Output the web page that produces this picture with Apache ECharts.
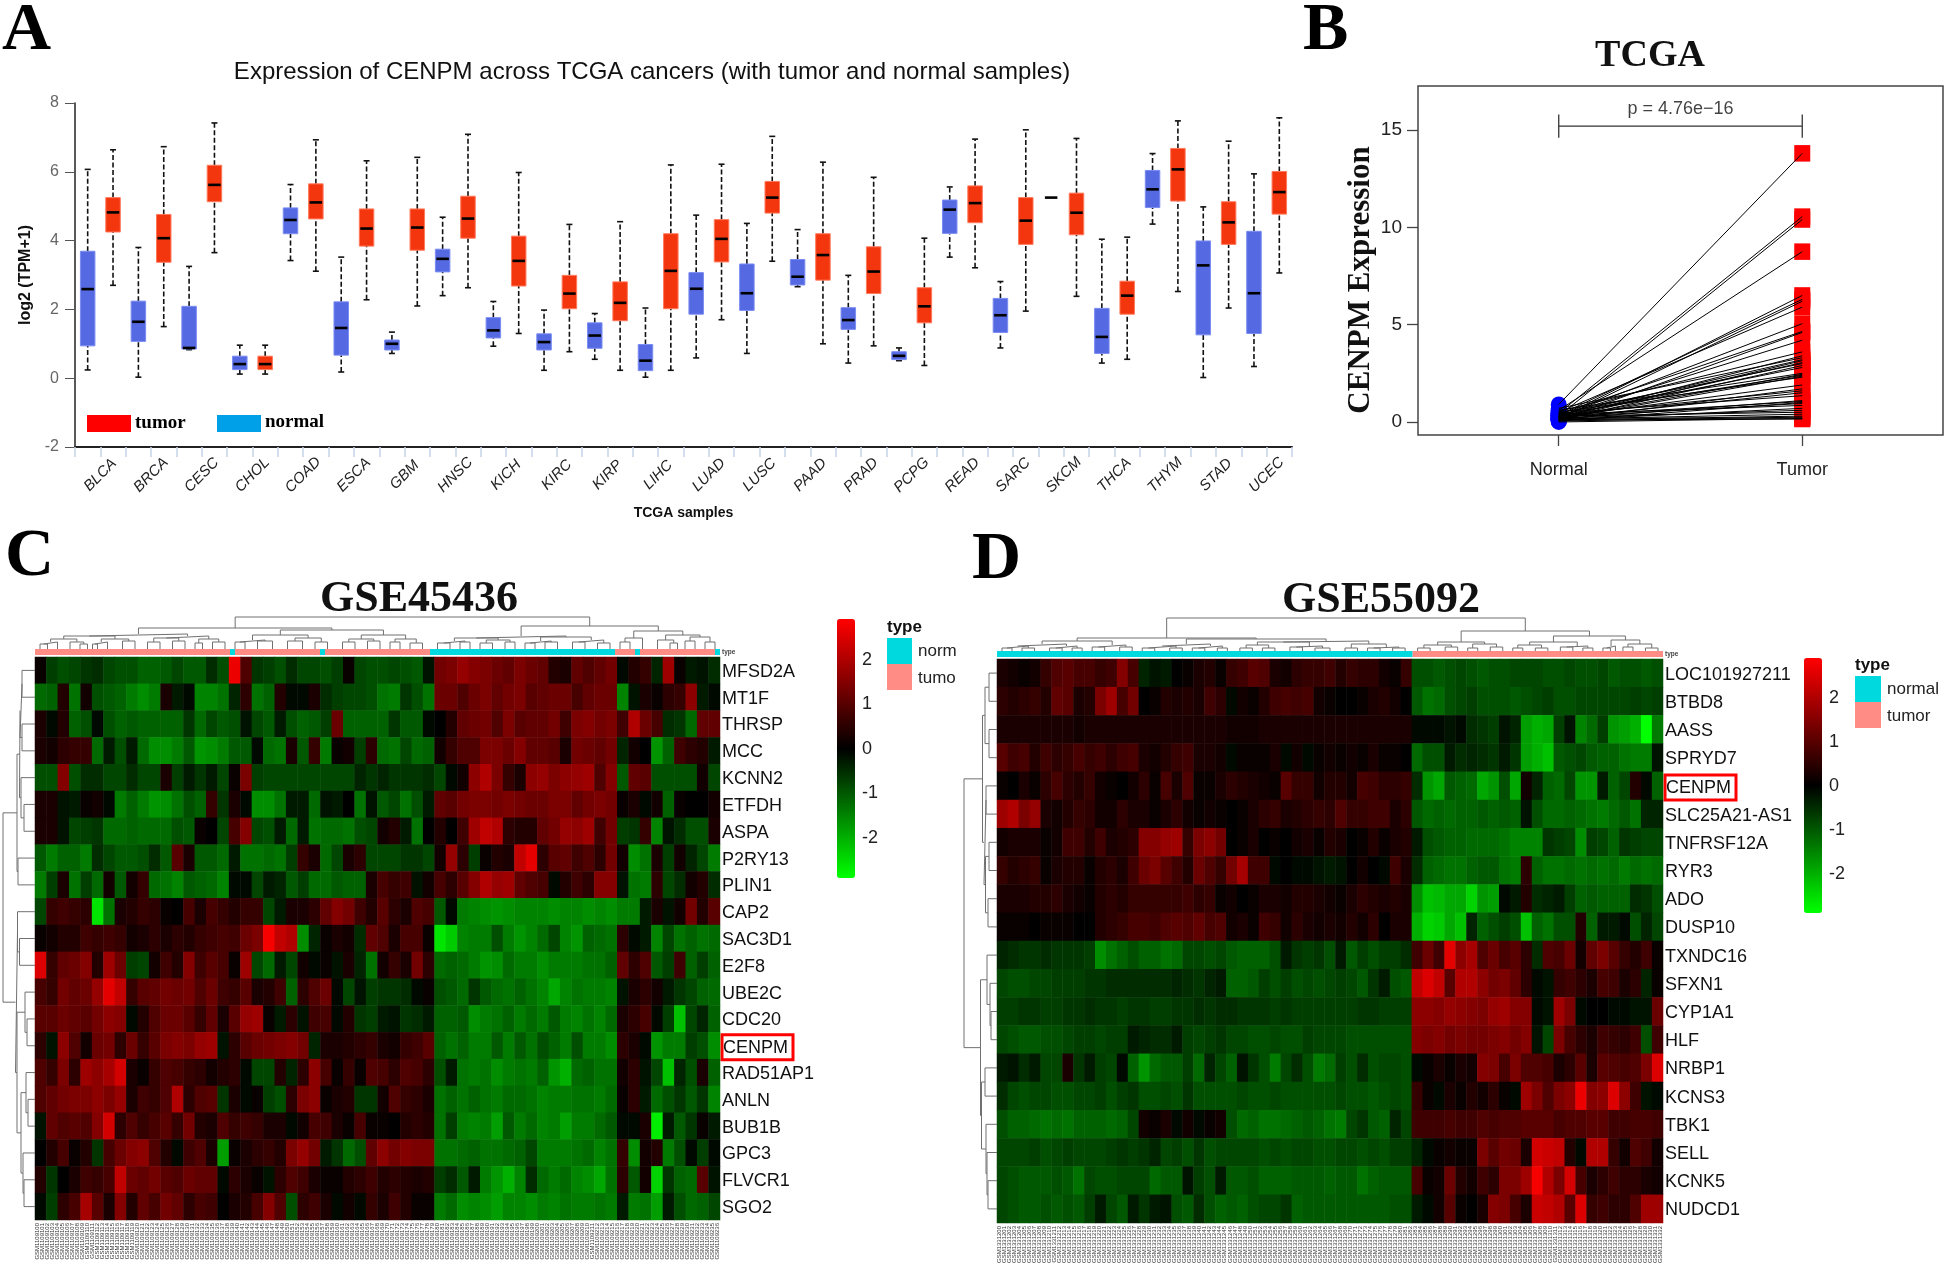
<!DOCTYPE html>
<html><head><meta charset="utf-8">
<style>html,body{margin:0;padding:0;background:#fff}#c{width:1946px;height:1266px}</style>
<script src="https://cdn.jsdelivr.net/npm/echarts@6/dist/echarts.min.js"></script>
</head><body><div id="c"></div>
<script>
// ---------- Panel A ----------
const cancers=['BLCA','BRCA','CESC','CHOL','COAD','ESCA','GBM','HNSC','KICH','KIRC','KIRP','LIHC','LUAD','LUSC','PAAD','PRAD','PCPG','READ','SARC','SKCM','THCA','THYM','STAD','UCEC'];
// [low, q1, median, q3, high]
const normalBoxes=[[0.24,0.94,2.59,3.69,6.07],[0.03,1.07,1.64,2.24,3.8],[0.83,0.85,0.88,2.09,3.25],[0.12,0.25,0.41,0.64,0.96],[3.42,4.2,4.6,4.95,5.63],[0.18,0.67,1.46,2.22,3.52],[0.72,0.82,1.0,1.11,1.34],[2.4,3.09,3.47,3.75,4.68],[0.93,1.17,1.39,1.76,2.23],[0.23,0.82,1.05,1.29,1.98],[0.55,0.87,1.24,1.61,1.88],[0.03,0.22,0.51,0.98,2.04],[0.59,1.86,2.6,3.07,4.74],[0.72,1.97,2.47,3.32,4.5],[2.66,2.71,2.95,3.45,4.32],[0.44,1.42,1.69,2.05,2.99],[0.51,0.54,0.65,0.77,0.88],[3.52,4.21,4.9,5.18,5.56],[0.88,1.33,1.83,2.32,2.81],[5.25,5.25,5.25,5.25,5.25],[0.44,0.72,1.2,2.03,4.04],[4.48,4.96,5.49,6.04,6.53],[0.02,1.26,3.28,3.99,4.98],[0.34,1.3,2.47,4.27,5.94]];
const tumorBoxes=[[2.7,4.25,4.82,5.25,6.64],[1.5,3.37,4.07,4.76,6.73],[3.65,5.13,5.62,6.19,7.42],[0.12,0.25,0.41,0.64,0.96],[3.11,4.63,5.11,5.65,6.93],[2.28,3.84,4.35,4.92,6.32],[2.1,3.72,4.38,4.92,6.42],[2.63,4.07,4.64,5.29,7.09],[1.3,2.68,3.41,4.13,5.98],[0.77,2.02,2.46,2.99,4.47],[0.23,1.67,2.19,2.8,4.55],[0.23,2.02,3.12,4.2,6.2],[1.7,3.38,4.05,4.61,6.22],[3.4,4.8,5.25,5.72,7.03],[1.0,2.85,3.58,4.2,6.28],[0.94,2.46,3.1,3.82,5.84],[0.37,1.61,2.09,2.63,4.07],[3.21,4.52,5.09,5.59,6.95],[1.95,3.89,4.58,5.25,7.22],[2.38,4.17,4.81,5.38,6.97],[0.55,1.86,2.4,2.82,4.1],[2.52,5.15,6.07,6.68,7.48],[2.04,3.89,4.53,5.13,6.89],[3.06,4.77,5.41,6.01,7.57]];
// ---------- Panel B ----------
const pairedNormal=[0.9,0.45,0.3,0.6,0.2,0.35,0.15,0.5,0.25,0.4,0.1,0.3,0.55,0.2,0.7,0.35,0.15,0.25,0.45,0.1,0.3,0.6,0.2,0.4,0.15,0.5,0.25,0.1,0.35,0.2,0.45,0.15,0.3,0.05,0.25,0.4,0.1,0.2,0.3,0.15,0.1,0.05,0.2,0.0,0.1];
const pairedTumor=[13.8,10.55,10.4,8.75,6.5,6.3,6.2,5.9,5.05,4.65,4.6,4.2,3.6,3.4,3.3,3.2,3.15,3.05,3.0,2.9,2.8,2.5,2.45,2.4,2.35,2.3,1.9,1.7,1.6,1.5,1.35,1.1,1.05,1.0,0.95,0.85,0.7,0.6,0.5,0.4,0.3,0.25,0.2,0.18,0.15];
// ---------- Panel C ----------
const genesC=['MFSD2A','MT1F','THRSP','MCC','KCNN2','ETFDH','ASPA','P2RY13','PLIN1','CAP2','SAC3D1','E2F8','UBE2C','CDC20','CENPM','RAD51AP1','ANLN','BUB1B','GPC3','FLVCR1','SGO2'];
// expression z-score x10, 60 columns per gene
const cMFSD2A=[1,-7,-9,-8,-6,-5,-8,-9,-9,-11,-11,-10,-8,-10,-10,-5,-9,27,9,-6,-7,-9,-5,-8,-8,-9,-7,1,-8,-9,-9,-8,-9,-10,-2,13,14,17,15,14,12,11,14,12,11,4,3,11,9,11,13,-1,4,6,-4,18,1,-3,-2,-5];
const cMT1F=[-12,-11,4,-13,2,-9,-10,-11,-14,-16,-14,3,-3,-1,-15,-15,-13,-4,5,-13,-11,4,-1,-1,3,-5,-7,-8,-8,-9,-13,-14,-6,-9,-13,12,12,9,12,14,11,13,14,10,11,12,12,8,11,12,12,-15,-2,3,1,5,6,16,-3,-1];
const cTHRSP=[3,-1,4,-11,-9,-1,-9,-11,-10,-11,-11,-11,-11,-6,-12,-8,-10,-9,-2,-8,-10,-3,-9,-11,-10,-7,12,-11,-11,-11,-11,-6,-10,-10,-1,0,4,11,12,13,9,14,10,11,11,13,7,14,15,13,14,7,20,12,8,-5,-6,-12,11,11];
const cMCC=[3,2,5,6,6,-12,-3,-9,-3,-12,-16,-16,-14,-10,-17,-16,-14,-10,-10,-1,-12,-13,3,-10,6,-14,1,2,-7,5,-12,-13,-8,-12,-11,2,6,9,9,14,14,12,15,11,11,10,3,13,12,11,13,-4,2,0,-17,-11,7,5,4,-3];
const cKCNN2=[-9,-9,15,-9,-5,-5,-8,-8,-5,-8,-8,3,-7,-3,-6,-3,-8,1,14,-7,-8,-8,-8,-8,-8,-8,-8,-8,-4,-6,-4,-6,-6,-6,-5,-8,-1,2,16,20,14,6,3,16,17,14,16,17,18,9,15,-10,11,10,-9,-9,-9,-9,2,-8];
const cETFDH=[3,3,-2,-3,1,2,-1,-14,-11,-14,-17,-16,-13,-9,-11,6,-6,3,-1,-16,-16,-13,-3,-3,-12,-2,-3,0,-13,-2,-10,-8,-13,-9,-3,11,10,13,14,14,13,14,13,12,12,14,14,11,13,14,13,1,3,-1,2,-11,1,0,0,2];
const cASPA=[3,3,-2,-8,-7,-6,-12,-12,-11,-12,-12,-12,-9,-10,1,0,-8,8,15,-8,-9,-3,-12,-3,-13,-12,-12,-13,-9,-8,2,4,-3,-13,0,4,0,7,18,22,20,5,4,4,11,13,17,16,18,7,13,-7,-6,6,-15,-2,-5,-9,-9,3];
const cP2RY13=[-10,-14,-11,-11,-14,-5,-8,-10,-10,-9,-5,-10,10,3,-10,-10,-12,-3,-13,-13,-12,-13,-7,6,3,-12,-8,3,5,-8,-8,-8,-6,-6,-8,2,17,5,-7,1,4,3,22,26,5,10,11,7,9,5,13,2,-16,-13,3,-7,2,-4,-8,-14];
const cPLIN1=[-14,-7,3,-13,-7,-12,2,-10,2,6,-12,-13,-15,-10,-11,-12,-15,-1,-1,-8,-3,-4,-10,-7,-12,-12,-10,-11,-11,3,8,6,7,-2,2,8,5,10,15,20,17,18,11,9,8,-1,4,7,5,15,15,-2,-13,-14,5,-8,-5,2,4,-5];
const cCAP2=[-8,6,7,6,5,-26,-13,3,4,6,5,1,0,8,3,8,6,4,6,6,-8,-3,3,3,5,11,15,13,7,4,10,5,3,9,8,-10,-1,-14,-15,-16,-17,-16,-15,-15,-15,-16,-15,-15,-16,-15,-16,-14,-14,-3,3,-2,2,13,4,10];
const cSAC3D1=[1,2,4,4,7,6,7,6,2,3,5,3,5,4,6,7,8,7,12,14,28,22,20,-16,-4,1,3,2,-5,11,9,3,8,8,1,-26,-23,-15,-14,-14,-9,-14,-17,-15,-12,-8,-15,-17,-11,-12,-13,5,-1,-3,-15,-8,-13,-11,-13,-12];
const cE2F8=[25,6,11,12,15,4,18,12,-7,-8,2,7,4,15,7,10,8,1,18,-8,-12,-3,-8,2,-1,1,-2,3,-4,-13,2,6,3,13,5,-12,-11,-12,-14,-17,-16,-12,-14,-14,-16,-14,-14,-14,-13,-13,-11,11,5,9,-10,-7,7,-11,-7,-11];
const cUBE2C=[8,6,13,11,12,17,26,22,6,10,11,13,12,13,9,12,7,6,10,3,4,7,-11,5,9,12,-1,-8,-2,-7,-6,-6,-5,-1,1,-9,-10,-12,-6,-10,-12,-13,-11,-13,-15,-19,-15,-13,-14,-14,-15,-2,3,5,2,-3,-6,-8,-11,-12];
const cCDC20=[10,10,12,11,10,13,16,15,-1,4,9,12,12,10,6,11,3,10,17,18,1,-3,5,-2,7,8,-1,4,-6,-7,-3,-2,-6,-5,-3,-11,-11,-10,-16,-14,-13,-11,-14,-12,-14,-10,-14,-15,-13,-15,-12,3,5,8,-1,-7,-22,-8,-4,-11];
const cCENPM=[5,-2,16,9,2,12,13,5,12,6,10,14,15,14,17,18,-2,5,10,12,13,14,15,13,-4,3,3,4,5,6,3,2,6,7,10,-11,-13,-11,-14,-14,-10,-14,-10,-13,-9,-11,-14,-9,-14,-14,-16,5,3,-1,-17,-14,-14,-7,-9,-16];
const cRAD51AP1=[9,6,14,5,18,16,19,24,3,1,6,9,8,6,5,2,4,5,-1,-8,-8,4,-4,5,16,8,1,6,1,9,8,5,9,8,5,-9,-3,-13,-14,-13,-16,-14,-13,-14,-11,-17,-20,-12,-11,-13,-13,2,5,-2,-8,-22,-4,-9,3,-11];
const cANLN=[9,11,13,14,14,16,14,17,3,7,6,9,20,5,9,10,-6,3,-1,1,-7,-9,5,14,16,1,3,4,-6,-6,2,9,6,5,3,-13,-11,-13,-11,-13,-14,-12,-12,-13,-15,-14,-14,-13,-13,-14,-12,1,5,-3,-12,-9,-6,-10,-6,-15];
const cBUB1B=[-2,11,9,10,9,15,24,5,9,6,8,10,6,13,4,3,9,6,7,6,3,3,-1,2,8,7,3,1,8,1,1,0,4,5,4,-13,-7,-14,-15,-14,-18,-10,-14,-12,-15,-14,-18,-14,-14,-12,-10,-1,-1,3,-27,-3,-10,-6,1,-3];
const cGPC3=[0,4,8,1,4,-6,8,12,15,16,9,4,-1,7,9,3,-18,1,3,5,6,4,14,17,13,-3,-6,-12,-9,11,16,13,15,14,14,-13,-13,-12,-11,-13,-13,-12,-11,-8,-14,-14,-14,-13,-12,-15,-13,6,-16,2,4,-14,-9,-1,-7,-1];
const cFLVCR1=[4,-6,0,3,7,6,8,22,12,11,13,10,9,12,11,11,-1,5,3,1,-2,5,9,7,3,1,1,4,5,7,4,5,4,3,4,-7,-5,-10,-3,-14,-17,-20,-15,-5,-12,-14,-12,-15,-16,-19,-13,5,-10,2,-24,-6,-11,-12,10,-2];
const cSGO2=[-1,-7,5,8,19,10,3,15,4,11,8,13,11,5,8,7,0,3,4,8,15,9,-9,5,7,3,-1,2,-1,6,3,7,4,1,1,-14,-12,-16,-15,-16,-18,-15,-15,-16,-14,-15,-13,-14,-14,-13,-14,-3,-14,-13,-18,-3,-9,-12,-11,-8];
const heatC=[cMFSD2A,cMT1F,cTHRSP,cMCC,cKCNN2,cETFDH,cASPA,cP2RY13,cPLIN1,cCAP2,cSAC3D1,cE2F8,cUBE2C,cCDC20,cCENPM,cRAD51AP1,cANLN,cBUB1B,cGPC3,cFLVCR1,cSGO2];
// sample-type runs [first, end, 0=normal 1=tumor]
const typeRunsC=[[0,39,1],[39,40,0],[40,57,1],[57,58,0],[58,79,1],[79,116,0],[116,120,1],[120,121,0],[121,136,1],[136,137,0]];
// dendrograms: [merge height, left, right]; a plain number is a leaf of that width
const colTreeC=[32,[21,[15,[13,[10,[7,[5,2,1],3],[7,2,[5,2,1]]],[10,[7,[5,1,1],3],[8,3,2]]],[13,[11,[7,3,2],[8,3,2]],[10,[6,2,1],[7,3,2]]]],[19,[14,[9,[7,2,2],[8,3,3]],[11,[8,3,3],[7,2,3]]],[14,[10,[7,3,2],[8,3,2]],[10,[7,2,2],[6,2,3]]]]],[23,[13,[11,[8,[6,3,2],[7,2,2]],[9,[6,2,3],[7,2,2]]],[12,[8,[6,2,2],[7,2,3]],[9,[7,3,2],[6,3,2]]]],[18,[11,[7,2,2],3],[14,[9,3,[6,2,1]],[12,[8,2,2],[7,2,2]]]]]];
const rowTreeC=[32,[18,[15.5,[15,[13,1,1],[13,1,1]],[14,1,[11,1,1]]],[17,1,1]],[19.5,[17.5,1,[15.5,1,1]],[18,[10,1,[8,1,1]],[14,[9,1,[7,1,1]],[12,1,[11,1,1]]]]]];
// ---------- Panel D ----------
const genesD=['LOC101927211','BTBD8','AASS','SPRYD7','CENPM','SLC25A21-AS1','TNFRSF12A','RYR3','ADO','DUSP10','TXNDC16','SFXN1','CYP1A1','HLF','NRBP1','KCNS3','TBK1','SELL','KCNK5','NUDCD1'];
// expression z-score x10, 61 columns per gene
const dLOC101927211=[3,2,1,2,6,9,10,8,8,6,7,15,8,-4,-2,-3,0,1,3,4,1,6,7,10,9,3,2,5,6,6,7,4,6,5,5,2,1,6,-9,-9,-10,-9,-8,-9,-10,-9,-9,-8,-8,-8,-9,-9,-8,-9,-9,-8,-10,-9,-9,-10,-9];
const dBTBD8=[5,4,5,6,4,11,10,3,4,14,18,8,13,0,1,4,3,4,3,7,5,-1,2,1,4,7,8,7,8,2,1,0,0,1,3,4,2,0,-10,-13,-12,-9,-8,-7,-9,-9,-9,-10,-9,-8,-7,-9,-9,-8,-8,-8,-8,-8,-7,-8,-7];
const dAASS=[3,3,3,3,3,3,3,2,3,3,3,3,3,3,3,3,3,3,3,3,3,2,2,2,3,3,3,3,3,3,3,3,3,3,3,3,3,3,-1,-1,-1,-2,-1,-5,-6,-7,-2,-4,-18,-20,-19,-7,-2,-15,-12,-7,-17,-18,-20,-29,-14];
const dSPRYD7=[10,7,8,4,7,5,6,8,6,7,5,7,8,3,2,4,6,7,3,3,2,-1,1,1,1,3,-1,2,-1,1,2,1,2,1,3,1,1,0,-12,-9,-9,-3,-5,-4,-5,-6,-3,-6,-18,-20,-22,-10,-9,-8,-10,-11,-11,-13,-14,-14,-2];
const dCENPM=[1,0,3,1,5,8,5,4,6,2,1,0,2,5,1,8,3,9,1,1,3,5,4,3,2,1,10,6,6,2,4,4,2,8,7,5,5,6,-5,-17,-19,-10,-11,-12,-19,-17,-9,-19,2,-4,-11,-12,-8,-17,-17,-3,-11,-8,4,-1,-11];
const dSLC25A21=[18,20,14,17,3,2,4,6,5,2,2,5,3,3,1,3,5,2,1,2,1,0,1,3,5,6,3,4,5,6,5,9,6,6,7,7,3,5,-10,-12,-11,-12,-11,-11,-10,-11,-10,-11,-2,-9,-12,-12,-11,-12,-13,-14,-12,-10,-13,-4,-4];
const dTNFRSF12A=[2,3,3,3,1,2,7,7,4,7,3,4,5,15,15,17,18,6,14,16,13,0,1,3,0,1,0,2,3,1,4,3,0,1,4,1,3,4,-3,-9,-10,-11,-11,-12,-12,-12,-13,-15,-15,-15,-6,-7,-8,-16,-7,-8,-11,-6,-7,-8,-8];
const dRYR3=[6,4,5,6,1,3,4,4,1,4,5,3,7,12,14,10,7,4,12,9,6,13,19,7,7,-1,0,-1,-1,-2,-3,-2,0,2,0,-1,7,3,-5,-11,-12,-13,-13,-11,-10,-10,-13,-14,5,-11,-13,-13,-12,-13,-12,-13,-12,-14,-12,-13,-12];
const dADO=[3,3,3,4,4,5,3,2,1,4,5,4,6,6,6,6,6,7,5,6,1,2,0,1,3,3,2,4,4,3,2,1,3,5,4,3,4,3,-16,-22,-21,-19,-19,-24,-17,-18,-1,-3,4,-5,-4,-3,-7,-11,-10,-11,-11,-11,-5,-6,-9];
const dDUSP10=[1,1,1,0,1,1,1,0,0,4,5,6,8,8,7,9,10,9,11,8,9,2,3,1,7,6,2,5,3,2,3,2,4,2,5,0,3,3,-20,-24,-23,-19,-22,-4,-11,-9,-7,-9,-22,-11,-13,-9,-9,4,-11,-3,-3,-1,-9,-4,-8];
const dTXNDC16=[-4,-5,-6,-6,-5,-6,-6,-6,-7,-16,-13,-11,-9,-11,-11,-13,-12,-8,-8,-9,-8,-10,-11,-11,-11,-9,-3,-6,-7,-6,-9,-3,-10,-7,-9,-7,-7,-5,7,12,7,26,16,19,9,12,8,10,5,-5,9,8,12,2,11,14,10,6,4,7,1];
const dSFXN1=[-8,-9,-9,-8,-8,-7,-7,-7,-6,-6,-5,-5,-5,-5,-5,-5,-4,-5,-6,-4,-3,-11,-11,-10,-7,-9,-7,-9,-8,-9,-8,-7,-8,-10,-6,-3,-9,-10,22,25,22,10,20,20,16,13,14,11,5,-1,-2,6,7,5,3,8,7,3,5,-4,1];
const dCYP1A1=[-7,-7,-6,-6,-7,-7,-6,-6,-5,-6,-6,-7,-6,-6,-7,-7,-6,-6,-5,-6,-5,-5,-6,-6,-6,-7,-6,-7,-7,-7,-7,-7,-7,-6,-6,-7,-7,-7,16,16,15,17,16,15,14,17,18,15,15,-1,-2,18,14,-1,0,0,-1,-1,-2,-2,12];
const dHLF=[-8,-9,-10,-10,-9,-9,-8,-7,-7,-8,-7,-7,-3,-4,-5,-5,-3,-7,-8,-7,-6,-8,-8,-9,-9,-8,-9,-9,-7,-8,-8,-8,-9,-9,-9,-9,-9,-9,15,14,15,13,14,13,13,14,15,13,15,-2,-8,14,8,5,3,7,6,5,7,-9,7];
const dNRBP1=[-3,-2,-5,-3,-8,-8,3,-6,-3,-7,-8,-1,-11,-17,-12,-10,-10,-7,-12,-4,-8,-11,-2,-6,-9,-14,-8,-5,-9,-14,-12,-7,-9,-5,-9,-8,-8,-9,-1,1,3,1,3,2,15,14,8,14,9,9,8,3,5,10,3,10,9,8,9,14,25];
const dKCNS3=[-5,-8,-9,-8,-8,-9,-9,-8,-8,-7,-9,-7,-6,-9,-9,-8,-9,-6,-9,-9,-9,-9,-8,-9,-9,-8,-9,-9,-9,-9,-9,-8,-9,-9,-10,-9,-8,-9,6,1,-1,3,1,4,2,5,1,-1,18,14,9,14,16,27,15,16,25,16,7,-2,-1];
const dTBK1=[-9,-11,-11,-12,-13,-12,-13,-11,-11,-11,-12,-11,-8,2,1,3,-1,2,-1,1,2,-9,-12,-11,-13,-13,-12,-11,-10,-11,-13,-14,-8,-6,-10,-11,-4,-8,7,7,7,8,7,7,9,8,9,9,10,10,10,8,9,9,10,10,7,7,8,8,7];
const dSELL=[-8,-8,-8,-7,-9,-8,-7,-8,-8,-8,-7,-6,-7,-6,-4,-8,-7,-9,-6,-9,-8,-8,-8,-8,-9,-8,-9,-8,-8,-9,-9,-8,-8,-9,-8,-9,-7,-7,-4,-1,1,2,1,1,14,10,13,12,3,24,23,22,4,-1,20,20,6,2,9,7,2];
const dKCNK5=[-8,-9,-10,-10,-10,-9,-10,-13,-8,-9,-9,-8,-8,-8,-12,-10,-10,-2,-7,-9,-3,-10,-10,-9,-11,-11,-11,-10,-10,-10,-11,-10,-10,-13,-11,-10,-10,-10,8,1,2,12,4,2,7,5,14,14,18,28,20,14,24,8,3,5,7,5,5,3,2];
const dNUDCD1=[-8,-9,-10,-10,-9,-10,-9,-10,-7,-3,-8,-10,-3,-6,-3,-2,-9,-10,-5,-9,-11,-10,-11,-9,-8,-8,-6,-11,-10,-10,-10,-10,-10,-10,-10,-10,-9,-9,-3,-1,2,10,1,0,3,15,14,8,3,23,22,20,10,25,6,7,5,5,9,18,18];
const heatD=[dLOC101927211,dBTBD8,dAASS,dSPRYD7,dCENPM,dSLC25A21,dTNFRSF12A,dRYR3,dADO,dDUSP10,dTXNDC16,dSFXN1,dCYP1A1,dHLF,dNRBP1,dKCNS3,dTBK1,dSELL,dKCNK5,dNUDCD1];
const typeRunsD=[[0,83,0],[83,133,1]];
const colTreeD=[33,[13,[10,[7,[5,[3,2,2],[3,2,3]],[5,[3,3,2],[3,2,2]]],[6,[4,2,3],[4,3,2]]],[12,[7,[5,[3,2,3],[3,3,2]],[5,[3,2,3],[3,2,2]]],[10,[9,[6,[3,3,2],[3,2,3]],[5,[4,3,2],[3,3,3]]],[7,[3,3,2],[4,[3,2,3],[3,2,3]]]]]],[20,[9,[6,[3,2,3],[4,3,2]],[7,[3,2,2],[4,3,2]]],[15,[9,[6,[3,2,2],[3,3,2]],[5,[4,3,2],[3,2,2]]],[11,[5,[3,2,1],1],[7,[4,2,2],[3,3,2]]]]]];
const rowTreeD=[33,[14.5,[12,[8,1,1],[8,1,1]],[13,[11,1,1],[11.5,[8,1,1],[9,1,1]]]],[16.5,[10,1,[7,1,[6,1,1]]],[15.5,[12,1,1],[11,1,[10,1,[9,1,1]]]]]];
const typeColors=['#00d9de','#ff8d85'];

// ---------- option builders ----------
const grids=[],xAxes=[],yAxes=[],series=[],visualMaps=[],graphics=[];
function addGrid(rect,x,y){grids.push(Object.assign({containLabel:false},rect));const i=grids.length-1;
  xAxes.push(Object.assign({},x,{gridIndex:i}));yAxes.push(Object.assign({},y,{gridIndex:i}));return i;}
const hiddenVal=(min,max,extra)=>Object.assign({type:'value',show:false,min,max},extra||{});
function text(t,x,y,font,fill,align,rotation){graphics.push({type:'text',silent:true,x,y,rotation:rotation||0,style:{text:t,font,fill:fill||'#000',textAlign:align||'left',textVerticalAlign:'middle'}});}
function rect(x,y,w,h,fill){graphics.push({type:'rect',silent:true,shape:{x,y,width:w,height:h},style:{fill}});}

// Panel A
const gA=addGrid({left:75,top:103,width:1217,height:344},
 {type:'value',min:0,max:24,interval:0.5,splitLine:{show:false},
  axisLine:{onZero:false,lineStyle:{color:'#222',width:2}},axisTick:{length:10,lineStyle:{color:'#c5d5e8',width:1.5}},
  axisLabel:{rotate:45,align:'center',verticalAlign:'middle',margin:28,fontStyle:'italic',fontFamily:'Liberation Sans',fontSize:15,color:'#222',hideOverlap:false,
   showMinLabel:true,showMaxLabel:true,formatter:v=>(v%1===0.5)?cancers[Math.floor(v)]:''},
  name:'TCGA samples',nameLocation:'middle',nameGap:59,nameTextStyle:{fontFamily:'Liberation Sans',fontWeight:'bold',fontSize:14,color:'#111'}},
 {type:'value',min:-2,max:8,interval:2,splitLine:{show:false},
  axisLine:{show:true,onZero:false,lineStyle:{color:'#222',width:1.5}},axisTick:{show:true,length:10,lineStyle:{color:'#555'}},
  axisLabel:{fontFamily:'Liberation Sans',fontSize:16,color:'#666',margin:16,padding:[4,0,0,0]},
  name:'log2 (TPM+1)',nameLocation:'middle',nameRotate:90,nameGap:40,nameTextStyle:{fontFamily:'Liberation Sans',fontWeight:'bold',fontSize:16,color:'#111'}});
function boxRender(fill,stroke){return function(params,api){
  const x=api.value(0),lo=api.coord([x,api.value(1)]),q1=api.coord([x,api.value(2)]),md=api.coord([x,api.value(3)]),q3=api.coord([x,api.value(4)]),hi=api.coord([x,api.value(5)]);
  const w=14.5,ch=[];
  if(hi[1]<lo[1]-0.5){
   const dash={stroke:'#111',lineWidth:1.6,lineDash:[5,2.5]},cap={stroke:'#111',lineWidth:1.6};
   ch.push({type:'line',shape:{x1:lo[0],y1:lo[1],x2:lo[0],y2:q1[1]},style:dash});
   ch.push({type:'line',shape:{x1:lo[0],y1:q3[1],x2:lo[0],y2:hi[1]},style:dash});
   ch.push({type:'line',shape:{x1:lo[0]-3,y1:lo[1],x2:lo[0]+3,y2:lo[1]},style:cap});
   ch.push({type:'line',shape:{x1:lo[0]-3,y1:hi[1],x2:lo[0]+3,y2:hi[1]},style:cap});
   ch.push({type:'rect',shape:{x:lo[0]-w/2,y:q3[1],width:w,height:q1[1]-q3[1]},style:{fill,stroke,lineWidth:1}});
  }
  ch.push({type:'line',shape:{x1:lo[0]-w/2+1,y1:md[1],x2:lo[0]+w/2-1,y2:md[1]},style:{stroke:'#000',lineWidth:2.6}});
  return {type:'group',children:ch};
};}
series.push({type:'custom',xAxisIndex:gA,yAxisIndex:gA,silent:true,renderItem:boxRender('#5469e2','#7b8cf2'),data:normalBoxes.map((b,i)=>[i+0.25,...b]),encode:{x:0,y:[1,2,3,4,5]},clip:false});
series.push({type:'custom',xAxisIndex:gA,yAxisIndex:gA,silent:true,renderItem:boxRender('#f4360f','#ff7a5c'),data:tumorBoxes.map((b,i)=>[i+0.75,...b]),encode:{x:0,y:[1,2,3,4,5]},clip:false});
rect(87,415,44,17,'#ff0000');text('tumor',135,423,'bold 19px "Liberation Serif"');
rect(217,415,44,17,'#00a0e8');text('normal',265,422,'bold 19px "Liberation Serif"');

// Panel B
const gB=addGrid({left:1418,top:86,width:525,height:349,show:true,borderColor:'#444',borderWidth:1.5,backgroundColor:'#fff'},
 {type:'value',min:0.422,max:2.578,splitLine:{show:false},axisLine:{show:false,onZero:false},
  axisTick:{show:true,length:11,customValues:[1,2],lineStyle:{color:'#444',width:1.3}},
  axisLabel:{customValues:[1,2],margin:26,fontFamily:'Liberation Sans',fontSize:18,color:'#222',formatter:v=>v===1?'Normal':'Tumor'}},
 {type:'value',min:-0.67,max:17.26,splitLine:{show:false},axisLine:{show:false,onZero:false},
  axisTick:{show:true,length:11,customValues:[0,5,10,15],lineStyle:{color:'#444',width:1.3}},
  axisLabel:{customValues:[0,5,10,15],margin:16,fontFamily:'Liberation Sans',fontSize:19,color:'#222'}});
text('CENPM Expression',1361,280,'bold 31px "Liberation Serif"','#111','center',Math.PI/2);
series.push({type:'scatter',xAxisIndex:gB,yAxisIndex:gB,silent:true,symbol:'circle',symbolSize:16,itemStyle:{color:'#0000ff',opacity:1},data:pairedNormal.map(v=>[1,v])});
series.push({type:'scatter',xAxisIndex:gB,yAxisIndex:gB,silent:true,symbol:'rect',symbolSize:[16,16.5],itemStyle:{color:'#ff0000',opacity:1},data:pairedTumor.map(v=>[2,v])});
const br=['-','-'],pairLines=[];
pairedNormal.forEach((v,i)=>{pairLines.push([1,v],[2,pairedTumor[i]],br);});
const lineBase={type:'line',symbol:'none',showSymbol:false,silent:true,clip:false,connectNulls:false,sampling:null};
series.push(Object.assign({},lineBase,{xAxisIndex:gB,yAxisIndex:gB,lineStyle:{color:'#000',width:1},data:pairLines,z:5}));
const bracket=[[1,14.6],[1,15.8],br,[1,15.2],[2,15.2],br,[2,14.6],[2,15.8]];
series.push(Object.assign({},lineBase,{xAxisIndex:gB,yAxisIndex:gB,lineStyle:{color:'#333',width:1.3},data:bracket}));
series.push({type:'scatter',xAxisIndex:gB,yAxisIndex:gB,silent:true,symbolSize:0,data:[[1.5,16.1]],
  label:{show:true,position:'inside',formatter:'p = 4.76e\u221216',fontFamily:'Liberation Sans',fontSize:18,color:'#111'}});

// Heatmap panels
function treeSegs(tree,swap){
  let cursor=0;const out=[];
  (function walk(n){
    if(typeof n==='number'){const p=cursor+n/2;cursor+=n;return {p,h:0};}
    const a=walk(n[1]),b=walk(n[2]),h=n[0];
    out.push([a.p,a.h],[a.p,h],[b.p,h],[b.p,b.h],['-','-']);
    return {p:(a.p+b.p)/2,h};
  })(tree);
  return swap?out.map(d=>[d[1],d[0]]):out;
}
function addHeat(o){
  const nCols=o.matrix[0].length,nSamples=o.samples;
  const colCats=Array.from({length:nCols},(_,i)=>i);
  const g=addGrid({left:o.left,top:o.top,width:o.width,height:o.height},
    {type:'category',data:colCats,show:false},
    {type:'category',data:o.genes,inverse:true,position:'right',axisLine:{show:false},axisTick:{show:false},
     axisLabel:{margin:2,interval:0,fontFamily:'Liberation Sans',fontSize:18,color:'#111',padding:[3,0,0,0],
       formatter:v=>v==='CENPM'?'{hl|CENPM}':v,
       rich:{hl:{fontFamily:'Liberation Sans',fontSize:18,color:'#111',borderColor:'#f00',borderWidth:3,padding:[4,5,3,1]}}}});
  const cells=[];o.matrix.forEach((row,r)=>row.forEach((v,c)=>cells.push([c,r,v/10])));
  series.push({type:'heatmap',xAxisIndex:g,yAxisIndex:g,silent:true,progressive:0,data:cells,emphasis:{disabled:true}});
  visualMaps.push({type:'continuous',seriesIndex:series.length-1,dimension:2,min:-2.9,max:2.9,left:o.barLeft,top:o.barTop,itemWidth:18,itemHeight:o.barHeight,
    calculable:false,hoverLink:false,text:null,padding:0,inRange:{color:['#00ff00','#000000','#ff0000']}});
  // colour-bar tick labels
  addGrid({left:o.barLeft+18,top:o.barZero-3*o.barUnit,width:1,height:6*o.barUnit},
    hiddenVal(0,1),
    {type:'value',min:-3,max:3,interval:1,position:'right',splitLine:{show:false},axisLine:{show:false},axisTick:{show:false},
     axisLabel:{margin:6,align:'left',fontFamily:'Liberation Sans',fontSize:18,color:'#222',formatter:v=>Math.abs(v)===3?'':String(v)}});
  // annotation bar
  const ga=addGrid({left:o.left,top:o.top-8,width:o.width,height:6},hiddenVal(0,nSamples),hiddenVal(0,1));
  series.push({type:'custom',xAxisIndex:ga,yAxisIndex:ga,silent:true,clip:false,data:o.runs,encode:{x:[0,1]},
    renderItem:(p,api)=>{const a=api.coord([api.value(0),0]),b=api.coord([api.value(1),1]);
      return {type:'rect',shape:{x:a[0],y:b[1],width:b[0]-a[0],height:a[1]-b[1]},style:{fill:typeColors[api.value(2)]}};}});
  // dendrograms
  const gt=addGrid({left:o.left,top:o.top-8-33,width:o.width,height:33},hiddenVal(0,nSamples),hiddenVal(0,33));
  series.push(Object.assign({},lineBase,{xAxisIndex:gt,yAxisIndex:gt,lineStyle:{color:'#707070',width:1},data:treeSegs(o.colTree)}));
  const gl=addGrid({left:o.left-33,top:o.top,width:33,height:o.height},hiddenVal(0,33,{inverse:true}),hiddenVal(0,o.genes.length,{inverse:true}));
  series.push(Object.assign({},lineBase,{xAxisIndex:gl,yAxisIndex:gl,lineStyle:{color:'#707070',width:1},data:treeSegs(o.rowTree,true)}));
  // sample id labels
  const ids=Array.from({length:nSamples},(_,i)=>o.idPrefix+String(o.idStart+i));
  addGrid({left:o.left,top:o.top+o.height+1,width:o.width,height:1},
    {type:'category',data:ids,axisLine:{show:false},axisTick:{show:false},
     axisLabel:{interval:0,rotate:90,margin:1,fontFamily:'Liberation Sans',fontSize:6,color:'#333',hideOverlap:false}},
    hiddenVal(0,1));
  // small "type" tag and legend
  text('type',o.left+o.width+2,o.top-5,'bold 6.5px "Liberation Sans"','#444');
  text('type',o.legX,o.legY,'bold 17px "Liberation Sans"','#111');
  rect(o.legX,o.legY+11,o.legW,26,typeColors[0]);rect(o.legX,o.legY+37,o.legW,26,typeColors[1]);
  text(o.legNormal,o.legX+o.legW+6,o.legY+24,'17px "Liberation Sans"','#222');
  text(o.legTumor,o.legX+o.legW+6,o.legY+51,'17px "Liberation Sans"','#222');
}
addHeat({matrix:heatC,genes:genesC,runs:typeRunsC,colTree:colTreeC,rowTree:rowTreeC,samples:137,left:35,top:657,width:685,height:563,
  barLeft:837,barTop:619,barHeight:259,barZero:749,barUnit:44.5,legX:887,legY:627,legW:25,legNormal:'norm',legTumor:'tumo',idPrefix:'GSM1109',idStart:100});
addHeat({matrix:heatD,genes:genesD,runs:typeRunsD,colTree:colTreeD,rowTree:rowTreeD,samples:133,left:997,top:659,width:666,height:564,
  barLeft:1804,barTop:658,barHeight:255,barZero:786,barUnit:44,legX:1855,legY:665,legW:26,legNormal:'normal',legTumor:'tumor',idPrefix:'GSM1331',idStart:200});

// Panel letters
const letter='bold 68px "Liberation Serif"';
text('A',2,31,letter);text('B',1303,31,letter);text('C',5,557,letter);text('D',972,560,letter);

// length check
[[heatC,60,genesC],[heatD,61,genesD]].forEach(([m,n,g])=>m.forEach((r,i)=>{if(r.length!==n)text(g[i]+':'+r.length,700,30+i*14,'12px sans-serif','#f0f');}));

const titleFont=(f,s,w)=>({fontFamily:f,fontSize:s,fontWeight:w,color:'#111'});
const chart=echarts.init(document.getElementById('c'),null,{renderer:'canvas'});
chart.setOption({animation:false,backgroundColor:'#fff',
 title:[
  {text:'Expression of CENPM across TCGA cancers (with tumor and normal samples)',left:652,top:60,textAlign:'center',padding:0,textStyle:titleFont('Liberation Sans',24,'normal')},
  {text:'TCGA',left:1650,top:37,textAlign:'center',padding:0,textStyle:titleFont('Liberation Serif',38,'bold')},
  {text:'GSE45436',left:419,top:578,textAlign:'center',padding:0,textStyle:titleFont('Liberation Serif',44,'bold')},
  {text:'GSE55092',left:1381,top:579,textAlign:'center',padding:0,textStyle:titleFont('Liberation Serif',44,'bold')}
 ],
 grid:grids,xAxis:xAxes,yAxis:yAxes,series,visualMap:visualMaps,graphic:{elements:graphics},tooltip:{show:false}});
</script></body></html>
